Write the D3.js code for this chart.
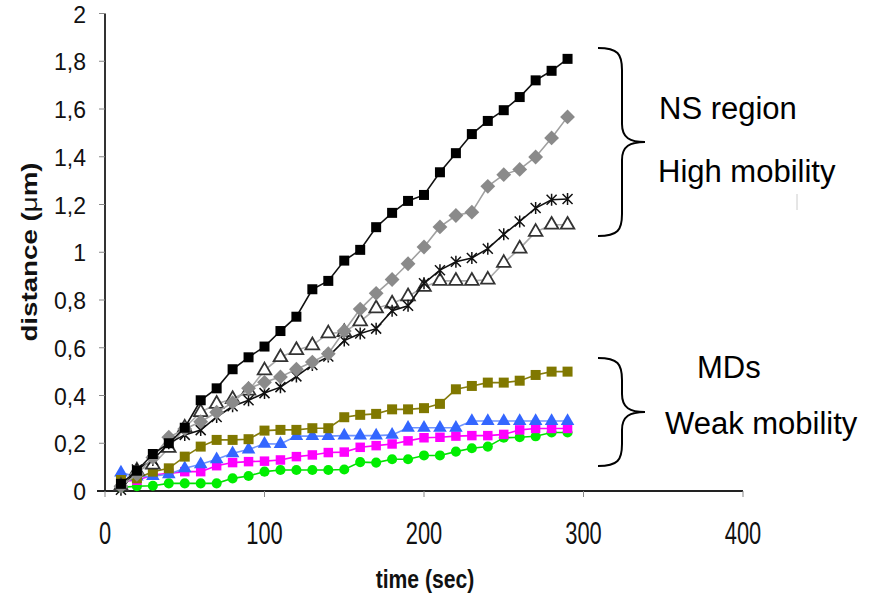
<!DOCTYPE html>
<html>
<head>
<meta charset="utf-8">
<script src="https://cdn.jsdelivr.net/npm/d3@7"></script>
<style>
  body { margin: 0; background: #fff; }
  svg { display: block; }
</style>
</head>
<body>
<svg id="chart" width="880" height="596"></svg>
<script>
// time points (sec)
const times = [10, 20, 30, 40, 50, 60, 70, 80, 90, 100, 110, 120, 130, 140, 150,
  160, 170, 180, 190, 200, 210, 220, 230, 240, 250, 260, 270, 280, 290];

// distances (um), NS region
const nsBlack = [0.03, 0.085, 0.155, 0.2, 0.265, 0.38, 0.43, 0.51, 0.56, 0.605, 0.67, 0.73, 0.845, 0.88, 0.965,
  1.01, 1.105, 1.165, 1.215, 1.24, 1.335, 1.415, 1.495, 1.55, 1.595, 1.65, 1.72, 1.76, 1.81];
const nsGray = [0.02, 0.07, 0.14, 0.225, 0.26, 0.29, 0.33, 0.37, 0.43, 0.455, 0.478, 0.51, 0.54, 0.575, 0.67,
  0.762, 0.828, 0.886, 0.952, 1.022, 1.106, 1.154, 1.168, 1.276, 1.325, 1.347, 1.399, 1.479, 1.567];
const nsTriangle = [0.02, 0.085, 0.11, 0.18, 0.265, 0.33, 0.365, 0.385, 0.42, 0.505, 0.56, 0.59, 0.61, 0.66, 0.665,
  0.71, 0.765, 0.785, 0.815, 0.855, 0.88, 0.88, 0.88, 0.885, 0.955, 1.015, 1.085, 1.115, 1.115];
const nsStar = [0.005, 0.09, 0.13, 0.2, 0.235, 0.255, 0.31, 0.355, 0.38, 0.41, 0.435, 0.48, 0.528, 0.563, 0.63,
  0.66, 0.68, 0.755, 0.776, 0.87, 0.925, 0.96, 0.976, 1.015, 1.075, 1.129, 1.185, 1.22, 1.223];

// distances (um), MDs
const mdOlive = [0.046, 0.053, 0.081, 0.095, 0.144, 0.186, 0.214, 0.214, 0.217, 0.253, 0.256, 0.256, 0.263, 0.263, 0.309,
  0.319, 0.323, 0.342, 0.342, 0.347, 0.365, 0.426, 0.44, 0.454, 0.454, 0.462, 0.486, 0.5, 0.5];
const mdBlue = [0.077, 0.06, 0.062, 0.07, 0.095, 0.112, 0.133, 0.158, 0.174, 0.198, 0.197, 0.23, 0.23, 0.23, 0.232,
  0.232, 0.232, 0.235, 0.265, 0.265, 0.265, 0.265, 0.293, 0.293, 0.293, 0.293, 0.293, 0.293, 0.293];
const mdMagenta = [0.04, 0.045, 0.067, 0.074, 0.081, 0.081, 0.106, 0.119, 0.123, 0.125, 0.13, 0.144, 0.151, 0.161, 0.163,
  0.183, 0.19, 0.197, 0.21, 0.223, 0.225, 0.23, 0.232, 0.232, 0.237, 0.256, 0.262, 0.262, 0.262];
const mdGreen = [0.015, 0.02, 0.022, 0.032, 0.032, 0.032, 0.032, 0.053, 0.063, 0.081, 0.088, 0.088, 0.088, 0.088, 0.09,
  0.121, 0.119, 0.133, 0.133, 0.149, 0.149, 0.165, 0.179, 0.186, 0.223, 0.225, 0.229, 0.245, 0.245];

const xTicks = [0, 100, 200, 300, 400];
const yTicks = [0, 0.2, 0.4, 0.6, 0.8, 1, 1.2, 1.4, 1.6, 1.8, 2];

// excel-like star marker
const symbolStar = {
  draw(ctx, size) {
    const r = Math.sqrt(size) / 2;
    ctx.moveTo(-r, -r); ctx.lineTo(r, r);
    ctx.moveTo(-r, r); ctx.lineTo(r, -r);
    ctx.moveTo(0, -r * 1.2); ctx.lineTo(0, r * 1.2);
  }
};

// square turned 45 degrees, as the excel diamond
const symbolRhomb = {
  draw(ctx, size) {
    const r = Math.sqrt(size / 2);
    ctx.moveTo(0, -r); ctx.lineTo(r, 0); ctx.lineTo(0, r); ctx.lineTo(-r, 0); ctx.closePath();
  }
};

const series = [
  { values: mdGreen, line: "#00e000", fill: "#00ee00", stroke: "none", symbol: d3.symbolCircle, size: 80 },
  { values: mdMagenta, line: "#ff00ff", fill: "#ff00ff", stroke: "none", symbol: d3.symbolSquare, size: 90 },
  { values: mdBlue, line: "#6f94ff", fill: "#3366ff", stroke: "none", symbol: d3.symbolTriangle, size: 80 },
  { values: mdOlive, line: "#857c0c", fill: "#807800", stroke: "none", symbol: d3.symbolSquare, size: 100 },
  { values: nsTriangle, line: "#aaaaaa", fill: "#ffffff", stroke: "#333", symbol: d3.symbolTriangle, size: 80 },
  { values: nsStar, line: "#111111", fill: "none", stroke: "#111", symbol: symbolStar, size: 100 },
  { values: nsGray, line: "#a0a0a0", fill: "#8a8a8a", stroke: "none", symbol: symbolRhomb, size: 110 },
  { values: nsBlack, line: "#111111", fill: "#000000", stroke: "none", symbol: d3.symbolSquare, size: 100 }
];

const svg = d3.select("#chart");

var x = d3.scaleLinear().domain([0, 400]).range([105, 743]);
var y = d3.scaleLinear().domain([0, 2]).range([491, 13.5]);

// y axis
svg.append("line")
  .attr("x1", x(0)).attr("x2", x(0))
  .attr("y1", y(2)).attr("y2", y(0))
  .attr("stroke", "#333").attr("stroke-width", 2);

svg.append("g").selectAll("line")
  .data(yTicks)
  .enter().append("line")
  .attr("x1", x(0) - 6).attr("x2", x(0))
  .attr("y1", function (d) { return y(d); })
  .attr("y2", function (d) { return y(d); })
  .attr("stroke", "#888").attr("stroke-width", 1);

svg.append("g").selectAll("text")
  .data(yTicks)
  .enter().append("text")
  .attr("x", 86)
  .attr("y", function (d) { return y(d) + 9; })
  .attr("text-anchor", "end")
  .attr("font-family", "Liberation Sans, Arial, sans-serif")
  .attr("font-size", 23)
  .attr("fill", "#111")
  .text(function (d) { return String(d).replace(".", ","); });

// x axis
svg.append("line")
  .attr("x1", x(0) - 8).attr("x2", x(400))
  .attr("y1", y(0)).attr("y2", y(0))
  .attr("stroke", "#222").attr("stroke-width", 2);

svg.append("g").selectAll("line")
  .data(xTicks)
  .enter().append("line")
  .attr("x1", function (d) { return x(d); })
  .attr("x2", function (d) { return x(d); })
  .attr("y1", y(0)).attr("y2", y(0) + 6)
  .attr("stroke", "#888").attr("stroke-width", 1);

svg.append("g").selectAll("text")
  .data(xTicks)
  .enter().append("text")
  .attr("text-anchor", "middle")
  .attr("transform", function (d) { return "translate(" + x(d) + ",544) scale(0.95,1.33)"; })
  .attr("font-family", "Liberation Sans, Arial, sans-serif")
  .attr("font-size", 23)
  .attr("fill", "#111")
  .text(function (d) { return d; });

// axis titles
svg.append("text")
  .attr("transform", "translate(425,588) scale(0.92,1.12)")
  .attr("text-anchor", "middle")
  .attr("font-family", "Liberation Sans, Arial, sans-serif")
  .attr("font-size", 23)
  .attr("font-weight", "bold")
  .attr("fill", "#111")
  .text("time (sec)");

var ytitle = svg.append("text")
  .attr("transform", "translate(37,252) rotate(-90) scale(1.26,1)")
  .attr("text-anchor", "middle")
  .attr("font-family", "Liberation Sans, Arial, sans-serif")
  .attr("font-size", 22)
  .attr("font-weight", "bold")
  .attr("fill", "#111");
ytitle.append("tspan").text("distance (");
ytitle.append("tspan").attr("font-weight", "normal").text("\u03bc");
ytitle.append("tspan").text("m)");

// series
var line = d3.line()
  .x(function (d, i) { return x(times[i]); })
  .y(function (d) { return y(d); });

series.forEach(function (s) {
  var g = svg.append("g");
  g.append("path")
    .attr("d", line(s.values))
    .attr("fill", "none")
    .attr("stroke", s.line)
    .attr("stroke-width", 1.6);
  g.selectAll("path.m")
    .data(s.values)
    .enter().append("path")
    .attr("class", "m")
    .attr("transform", function (d, i) { return "translate(" + x(times[i]) + "," + y(d) + ")"; })
    .attr("d", d3.symbol().type(s.symbol).size(s.size))
    .attr("fill", s.fill)
    .attr("stroke", s.stroke)
    .attr("stroke-width", s.symbol === symbolStar ? 1.5 : 1.8);
});

// braces and annotations
function brace(top, tip, bottom) {
  var xl = 598, xm = 622, xt = 645;
  return "M" + xl + "," + top +
    " C" + (xm - 4) + "," + top + " " + xm + "," + (top + 6) + " " + xm + "," + (top + 22) +
    " L" + xm + "," + (tip - 18) +
    " C" + xm + "," + (tip - 4) + " " + (xm + 8) + "," + tip + " " + xt + "," + tip +
    " C" + (xm + 8) + "," + tip + " " + xm + "," + (tip + 4) + " " + xm + "," + (tip + 18) +
    " L" + xm + "," + (bottom - 22) +
    " C" + xm + "," + (bottom - 6) + " " + (xm - 4) + "," + bottom + " " + xl + "," + bottom;
}

svg.append("path").attr("d", brace(48, 142, 236))
  .attr("fill", "none").attr("stroke", "#000").attr("stroke-width", 2);
svg.append("path").attr("d", brace(358, 412, 466))
  .attr("fill", "none").attr("stroke", "#000").attr("stroke-width", 2);

var notes = [
  { text: "NS region", x: 659, y: 119 },
  { text: "High mobility", x: 658, y: 182 },
  { text: "MDs", x: 697, y: 378 },
  { text: "Weak mobility", x: 665, y: 434 }
];
svg.append("g").selectAll("text")
  .data(notes)
  .enter().append("text")
  .attr("x", function (d) { return d.x; })
  .attr("y", function (d) { return d.y; })
  .attr("font-family", "Liberation Sans, Arial, sans-serif")
  .attr("font-size", 31)
  .attr("fill", "#000")
  .text(function (d) { return d.text; });

svg.append("line")
  .attr("x1", 797).attr("x2", 797).attr("y1", 194).attr("y2", 210)
  .attr("stroke", "#ccc").attr("stroke-width", 1);
</script>
</body>
</html>
